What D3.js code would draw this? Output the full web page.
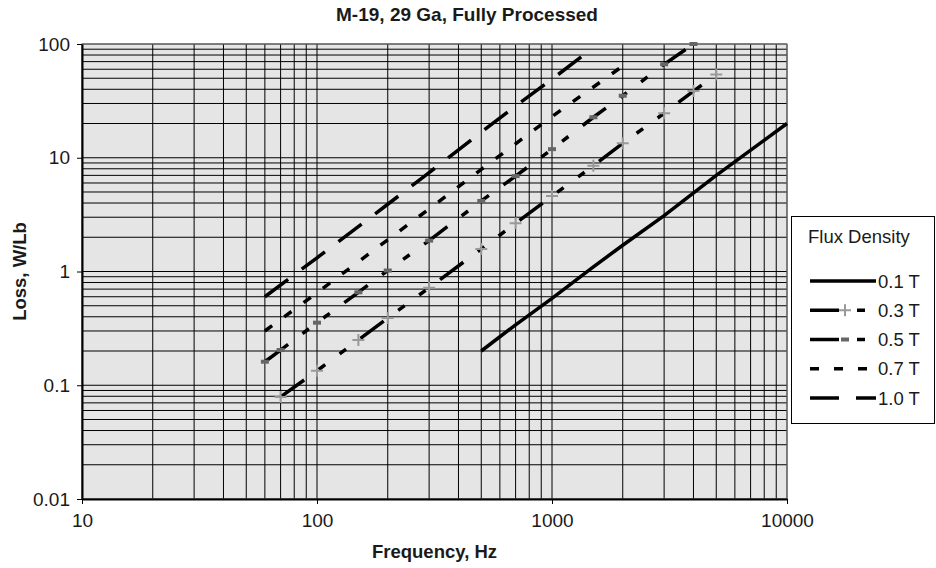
<!DOCTYPE html>
<html>
<head>
<meta charset="utf-8">
<script src="https://cdn.jsdelivr.net/npm/d3@7"></script>
<style>
  body { margin: 0; background: #fff; }
  svg text { font-family: "Liberation Sans", Arial, sans-serif; fill: #1a1a1a; }
</style>
</head>
<body>
<svg width="936" height="568"></svg>
<script>
// loss curves (Hz -> W/lb)
const seriesNames = ["0.1 T", "0.3 T", "0.5 T", "0.7 T", "1.0 T"];
const freq01 = [500, 700, 1000, 1500, 2000, 3000, 5000, 10000];
const loss01 = [0.2, 0.34, 0.58, 1.1, 1.7, 3.1, 7.0, 20];
const freq03 = [70, 100, 150, 200, 300, 500, 700, 1000, 1500, 2000, 3000, 4000, 5000];
const loss03 = [0.079, 0.134, 0.25, 0.39, 0.72, 1.58, 2.65, 4.6, 8.5, 13.4, 24.6, 38.6, 54];
const freq05 = [60, 70, 100, 150, 200, 300, 500, 700, 1000, 1500, 2000, 3000, 4000];
const loss05 = [0.161, 0.204, 0.355, 0.656, 1.02, 1.87, 4.17, 6.9, 11.9, 22.7, 35.1, 66.3, 100];
const freq07 = [60, 100, 200, 300, 500, 1000, 2000];
const loss07 = [0.30, 0.65, 1.9, 3.55, 7.9, 23, 64];
const freq10 = [60, 100, 200, 300, 500, 700, 1000, 1500];
const loss10 = [0.6, 1.32, 3.9, 7.4, 16.8, 28.5, 49, 93];

const xTicks = [10, 100, 1000, 10000];
const xTickLabels = ["10", "100", "1000", "10000"];
const yTicks = [0.01, 0.1, 1, 10, 100];
const yTickLabels = ["0.01", "0.1", "1", "10", "100"];

const svg = d3.select("svg");
const pL = 82, pR = 787, pT = 44, pB = 499;

const x = d3.scaleLog().domain([10, 10000]).range([pL, pR]);
const y = d3.scaleLog().domain([0.01, 100]).range([pB, pT]);

// plot background
svg.append("rect")
    .attr("x", pL).attr("y", pT)
    .attr("width", pR - pL).attr("height", pB - pT)
    .attr("fill", "#e5e5e5");

// grid, every 1..9 of each decade
svg.append("g").selectAll("line")
    .data(x.ticks())
    .join("line")
    .attr("x1", d => x(d)).attr("x2", d => x(d))
    .attr("y1", pT).attr("y2", pB)
    .attr("stroke", "#000").attr("stroke-width", 1);

svg.append("g").selectAll("line")
    .data(y.ticks())
    .join("line")
    .attr("x1", pL).attr("x2", pR)
    .attr("y1", d => y(d)).attr("y2", d => y(d))
    .attr("stroke", "#000").attr("stroke-width", 1);

// frame
svg.append("rect")
    .attr("x", pL).attr("y", pT)
    .attr("width", pR - pL).attr("height", pB - pT)
    .attr("fill", "none").attr("stroke", "#808080").attr("stroke-width", 1);

// axes
const xAxis = svg.append("g")
    .attr("transform", `translate(0,${pB})`)
    .call(d3.axisBottom(x).tickValues(xTicks)
        .tickFormat((d, i) => xTickLabels[i]).tickSize(5).tickPadding(10).tickSizeOuter(0));
const yAxis = svg.append("g")
    .attr("transform", `translate(${pL},0)`)
    .call(d3.axisLeft(y).tickValues(yTicks)
        .tickFormat((d, i) => yTickLabels[i]).tickSize(5).tickPadding(7).tickSizeOuter(0));
[xAxis, yAxis].forEach(a => {
    a.select(".domain").attr("stroke", "#000").attr("stroke-width", 2);
    a.selectAll(".tick line").attr("stroke", "#000");
    a.selectAll("text").attr("font-size", 19).style("font-family", '"Liberation Sans", Arial, sans-serif').attr("fill", "#1a1a1a");
});

// titles
svg.append("text")
    .attr("x", 467).attr("y", 21)
    .attr("text-anchor", "middle")
    .attr("font-size", 19).attr("font-weight", "bold")
    .text("M-19, 29 Ga, Fully Processed");

svg.append("text")
    .attr("x", (pL + pR) / 2).attr("y", 558)
    .attr("text-anchor", "middle")
    .attr("font-size", 18.5).attr("font-weight", "bold")
    .text("Frequency, Hz");

svg.append("text")
    .attr("transform", `translate(26,${(pT + pB) / 2}) rotate(-90)`)
    .attr("text-anchor", "middle")
    .attr("font-size", 18.5).attr("font-weight", "bold")
    .text("Loss, W/Lb");

// series
const longDashDotDot = "29,18,8,18,8,18";
const series = [
    { name: seriesNames[0], f: freq01, v: loss01, dash: null,            marker: null },
    { name: seriesNames[1], f: freq03, v: loss03, dash: longDashDotDot,  marker: "plus" },
    { name: seriesNames[2], f: freq05, v: loss05, dash: longDashDotDot,  marker: "bar" },
    { name: seriesNames[3], f: freq07, v: loss07, dash: "9,15",          marker: null },
    { name: seriesNames[4], f: freq10, v: loss10, dash: "29,17",         marker: null }
];

svg.append("clipPath").attr("id", "plotclip")
  .append("rect")
    .attr("x", pL).attr("y", pT - 2)
    .attr("width", pR - pL + 2).attr("height", pB - pT + 2);

const line = d3.line().x(d => x(d[0])).y(d => y(d[1]));
const plot = svg.append("g").attr("clip-path", "url(#plotclip)");

function drawMarker(g, type, cx, cy) {
    if (type === "plus") {
        g.append("path")
            .attr("d", `M${cx - 6},${cy}H${cx + 6}M${cx},${cy - 6}V${cy + 6}`)
            .attr("stroke", "#999").attr("stroke-width", 2).attr("fill", "none");
    } else if (type === "bar") {
        g.append("rect")
            .attr("x", cx - 4).attr("y", cy - 2)
            .attr("width", 8).attr("height", 4)
            .attr("fill", "#666");
    }
}

series.forEach(s => {
    const pts = s.f.map((f, i) => [f, s.v[i]]);
    plot.append("path")
        .attr("d", line(pts))
        .attr("fill", "none")
        .attr("stroke", "#000")
        .attr("stroke-width", 3.5)
        .attr("stroke-dasharray", s.dash);
    if (s.marker) {
        const mg = plot.append("g");
        pts.forEach(p => drawMarker(mg, s.marker, x(p[0]), y(p[1])));
    }
});

// legend
const legend = svg.append("g");
legend.append("rect")
    .attr("x", 791.5).attr("y", 216.5)
    .attr("width", 143).attr("height", 207)
    .attr("fill", "#fff").attr("stroke", "#000").attr("stroke-width", 1);
legend.append("text")
    .attr("x", 808).attr("y", 243)
    .attr("font-size", 18.5)
    .text("Flux Density");

const legendY = d3.scalePoint().domain(seriesNames).range([281, 398]);
series.forEach(s => {
    const ly = legendY(s.name);
    legend.append("line")
        .attr("x1", 810).attr("x2", 876)
        .attr("y1", ly).attr("y2", ly)
        .attr("stroke", "#000").attr("stroke-width", 3.5)
        .attr("stroke-dasharray", s.dash);
    drawMarker(legend, s.marker, 845, ly);
    legend.append("text")
        .attr("x", 878).attr("y", ly + 6.5)
        .attr("font-size", 18.5)
        .text(s.name);
});
</script>
</body>
</html>
